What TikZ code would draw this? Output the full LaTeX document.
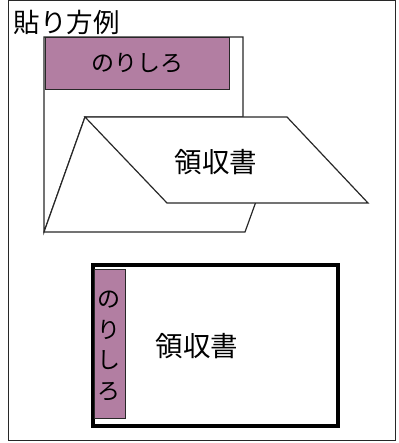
\documentclass[tikz,border=0pt]{standalone}
\usepackage{fontspec}
\setmainfont{Noto Sans CJK JP}
\definecolor{nori}{RGB}{178,126,162}
\definecolor{frame}{RGB}{40,40,40}
\begin{document}
\begin{tikzpicture}[x=1pt,y=-1pt,
  thin line/.style={draw=frame,line width=1.2pt},
  nori box/.style={fill=nori,draw=frame,line width=1.2pt},
  lbl/.style={inner sep=0pt,font=\fontsize{23}{25}\selectfont}]
\useasboundingbox (0,0) rectangle (398,443);
% outer frame
\draw[draw=frame,line width=1.6pt] (8.5,0.5) rectangle (395.5,440.5);
\node[inner sep=0pt,anchor=west,font=\fontsize{26.5}{28}\selectfont] (title) at (13.5,22) {貼り方例};
% paper behind
\draw[thin line,fill=white] (44,37) -- (243,37) -- (243,117) -- (85,117) -- (44,232) -- cycle;
\node[nori box,minimum width=184pt,minimum height=52pt,anchor=north west,inner sep=0pt] (nori1) at (45,37) {};
\node[lbl] at (nori1.center) {のりしろ};
% back folded part
\draw[thin line,fill=white] (85,117) -- (44,232) -- (245,232) -- (258,196) -- cycle;
% front folded part
\draw[thin line,fill=white] (85,117) -- (287,117) -- (368,203) -- (167,203) -- cycle;
\node[inner sep=0pt,font=\fontsize{27.5}{29}\selectfont] (rec1) at (216,162) {領収書};
% bottom example
\node[draw=black,line width=3.5pt,minimum width=245pt,minimum height=161pt,anchor=north west,inner sep=0pt] (paper2) at (91,263) {};
\node[nori box,line width=1pt,minimum width=31pt,minimum height=149pt,anchor=north west,inner sep=0pt] (nori2) at (94,269) {};
\node[lbl,align=center,font=\fontsize{23}{30.5}\selectfont] at (109,346) {の\\り\\し\\ろ};
\node[inner sep=0pt,font=\fontsize{27.5}{29}\selectfont] (rec2) at (197,346) {領収書};
\end{tikzpicture}
\end{document}
